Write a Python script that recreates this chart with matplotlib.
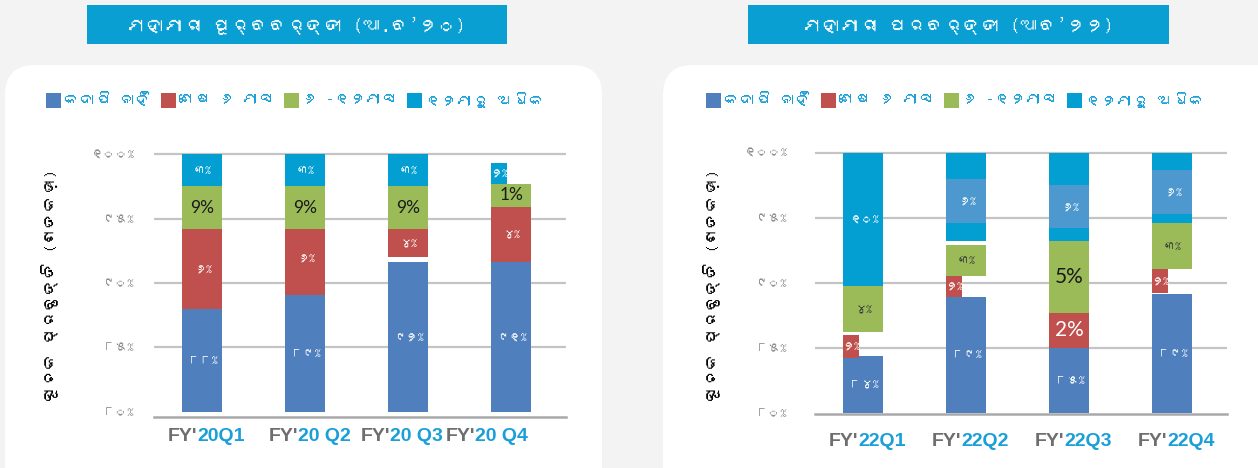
import matplotlib
matplotlib.use("Agg")
import matplotlib.pyplot as plt
from matplotlib import font_manager
from matplotlib.patches import FancyBboxPatch, Rectangle

# ---- values (percent) ----
levels = [80, 85, 90, 95, 100]
level_labels = ["୮୦%", "୮୫%", "୯୦%", "୯୫%", "୧୦୦%"]
series = ["କଦାପି ନାହିଁ", "ଶେଷ ୬ ମାସ", "୬ -୧୨ମାସ", "୧୨ମାରୁ ଅଧିକ"]

# before the pandemic
pre_quarters = ["20Q1", "20 Q2", "20 Q3", "20 Q4"]
pre_never_hi = [88.0, 89.1, 91.6, 91.6]
pre_last6_lo = [88.0, 89.1, 92.0, 91.65]
pre_last6_hi = [94.2, 94.75, 94.2, 95.9]
pre_mid_lo = [94.2, 94.2, 94.2, 95.9]
pre_mid_hi = [97.5, 97.5, 97.5, 97.7]
pre_over_lo = [97.5, 97.5, 97.5, 97.7]
pre_over_hi = [100.0, 100.0, 100.0, 99.3]
pre_never_lbl = ["୮୮%", "୮୯%", "୯୨%", "୯୧%"]
pre_last6_lbl = ["୬%", "୬%", "୪%", "୪%"]
pre_mid_lbl = ["9%", "9%", "9%", "1%"]
pre_over_lbl = ["୩%", "୩%", "୩%", "୨%"]

# after the pandemic
post_quarters = ["22Q1", "22Q2", "22Q3", "22Q4"]
post_never_hi = [84.35, 88.93, 85.0, 89.16]
post_last6_lo = [84.2, 88.93, 85.0, 89.24]
post_last6_hi = [86.0, 90.5, 87.7, 91.04]
post_mid_lo = [86.2, 90.5, 87.7, 91.04]
post_mid_hi = [89.75, 92.87, 93.2, 94.56]
post_over_lo = [89.75, 93.2, 93.2, 94.56]
post_over_hi = [100.0, 100.0, 100.0, 100.0]
post_box_lo = [None, 94.56, 94.17, 95.3]
post_box_hi = [None, 97.95, 97.55, 98.67]
post_never_lbl = ["୮୪%", "୮୯%", "୮୫%", "୮୯%"]
post_last6_lbl = ["୨%", "୨%", "2%", "୨%"]
post_mid_lbl = ["୪%", "୩%", "5%", "୩%"]
post_over_lbl = ["୧୦%", "୬%", "୬%", "୬%"]


def find_odia():
    try:
        from fontTools.ttLib import TTFont
    except Exception:
        return None
    for fe in font_manager.fontManager.ttflist:
        try:
            cmap = TTFont(fe.fname, fontNumber=0, lazy=True).getBestCmap()
        except Exception:
            continue
        if cmap and 0x0B15 in cmap:
            return fe.name
    return None


odia = find_odia()
FONTS = [odia, "DejaVu Sans"] if odia else ["DejaVu Sans"]
plt.rcParams["font.family"] = FONTS

BLUE, RED, GREEN, CYAN, BOX = "#4f7fbd", "#c0504d", "#9bbb59", "#039fd3", "#4d98cf"
GRAY_T = "#6e6e6e"
TXT_CYAN = "#1a9fd8"
W, H = 1258, 468
BW = 0.39

fig = plt.figure(figsize=(W / 100, H / 100), dpi=100)
fig.patch.set_facecolor("#f3f3f3")
renderer = fig.canvas.get_renderer()

# background layer in pixel coordinates
bg = fig.add_axes([0, 0, 1, 1], zorder=0)
bg.set_xlim(0, W)
bg.set_ylim(H, 0)
bg.axis("off")
for x0, w in [(5, 597), (663, 620)]:
    bg.add_patch(FancyBboxPatch((x0, 65), w, 450, boxstyle="round,pad=0,rounding_size=30",
                                fc="white", ec="none"))

titles = ["ମହାମାରୀ ପୂର୍ବବର୍ତ୍ତୀ (ଆ.ବ’୨୦)", "ମହାମାରୀ ପରବର୍ତ୍ତୀ (ଆବ’୨୨)"]
for (x0, w), t in zip([(87, 420), (748, 421)], titles):
    bg.add_patch(Rectangle((x0, 5), w, 39, fc="#0a9fd2", ec="none"))
    bg.text(x0 + w / 2, 25, t, color="white", fontsize=13.5, ha="center", va="center")

# legends: square, then its label, one after the other
for x in (46, 706):
    for col, name in zip([BLUE, RED, GREEN, CYAN], series):
        bg.add_patch(Rectangle((x, 93), 15, 15, fc=col, ec="none"))
        lt = bg.text(x + 18, 100, name, color=TXT_CYAN, fontsize=11.5, ha="left", va="center")
        x += 18 + lt.get_window_extent(renderer).width + 9

ylab = "ସୂଚକ ପ୍ରବୃତ୍ତି (ଶତକଡ଼ା)"
for x in (50, 712):
    bg.text(x, 285, ylab, rotation=90, fontsize=12, fontweight="bold", color="black",
            ha="center", va="center")


def put(ax, x, y, s, dark, big):
    if s.isascii():
        ax.text(x, y, s, ha="center", va="center", fontsize=big, zorder=5,
                family=["Lato", "DejaVu Sans"], color="#1a1a1a" if dark else "white")
    else:
        ax.text(x, y, s, ha="center", va="center", fontsize=8.5, zorder=5,
                color="#3a3a3a" if dark else "white")


def seg(ax, i, lo, hi, color, frac=1.0):
    ax.bar(i - BW / 2, hi - lo, width=BW * frac, bottom=lo, align="edge",
           color=color, lw=0, zorder=3)
    return i - BW / 2 + BW * frac / 2


def panel(rect, ylo, quarters, never_hi, l6_lo, l6_hi, mid_lo, mid_hi, ov_lo, ov_hi,
          lbls, box_lo=None, box_hi=None, l6_frac=None, ov_frac=None,
          shifts=None, big=12, xoff=-14, ypad=14):
    ax = fig.add_axes(rect, zorder=2)
    ax.set_facecolor("none")
    ax.set_xlim(-0.47, 3.53)
    ax.set_ylim(ylo, 100.3)
    ax.hlines(levels[1:], -0.47, 3.53, color="#c4c4c4", lw=1.6, zorder=1)
    n_l, l6_l, mid_l, ov_l = lbls
    for i in range(len(quarters)):
        xc = seg(ax, i, 80, never_hi[i], BLUE)
        put(ax, xc, (80 + never_hi[i]) / 2, n_l[i], False, big)
        xc = seg(ax, i, l6_lo[i], l6_hi[i], RED, l6_frac[i] if l6_frac else 1.0)
        put(ax, xc, (l6_lo[i] + l6_hi[i]) / 2, l6_l[i], False, big)
        xc = seg(ax, i, ov_lo[i], ov_hi[i], CYAN, ov_frac[i] if ov_frac else 1.0)
        if box_lo is not None and box_lo[i] is not None:
            seg(ax, i, box_lo[i], box_hi[i], BOX)
            put(ax, i, (box_lo[i] + box_hi[i]) / 2, ov_l[i], False, big)
        else:
            put(ax, xc, (ov_lo[i] + ov_hi[i]) / 2, ov_l[i], False, big)
        xc = seg(ax, i, mid_lo[i], mid_hi[i], GREEN)
        put(ax, xc, (mid_lo[i] + mid_hi[i]) / 2, mid_l[i], True, big)
    ax.set_yticks(levels, level_labels)
    ax.tick_params(axis="y", length=0, pad=ypad, labelsize=9, labelcolor="#8a8a8a")
    ax.set_xticks(range(len(quarters)), [""] * len(quarters))
    ax.tick_params(axis="x", length=0)
    for s in ("left", "right", "top"):
        ax.spines[s].set_visible(False)
    ax.spines["bottom"].set_color("#a9a9a9")
    ax.spines["bottom"].set_linewidth(1.8)
    tf = ax.get_xaxis_transform()
    for i, q in enumerate(quarters):
        dx = (shifts[i] if shifts else -5.5) / 1.389
        ax.annotate("FY'", (i, 0), xycoords=tf, xytext=(dx, xoff), textcoords="offset points",
                    ha="right", va="center", fontsize=14, fontweight="bold", color=GRAY_T,
                    family=["Liberation Sans", "DejaVu Sans"])
        ax.annotate(q, (i, 0), xycoords=tf, xytext=(dx, xoff), textcoords="offset points",
                    ha="left", va="center", fontsize=14, fontweight="bold", color=TXT_CYAN,
                    family=["Liberation Sans", "DejaVu Sans"])
    return ax


# left panel: axes 154..566 px wide, bottom line at 417 px
panel([154 / W, (H - 417) / H, 412 / W, 266.7 / H], 79.59, pre_quarters,
      pre_never_hi, pre_last6_lo, pre_last6_hi, pre_mid_lo, pre_mid_hi,
      pre_over_lo, pre_over_hi,
      (pre_never_lbl, pre_last6_lbl, pre_mid_lbl, pre_over_lbl),
      ov_frac=[1, 1, 1, 0.38], shifts=[-5.5, -7, -18, -36], big=12.5, xoff=-14, ypad=14)

# right panel: axes 815..1227 px wide, bottom line at 414 px
panel([815 / W, (H - 414) / H, 412 / W, 265.2 / H], 79.9, post_quarters,
      post_never_hi, post_last6_lo, post_last6_hi, post_mid_lo, post_mid_hi,
      post_over_lo, post_over_hi,
      (post_never_lbl, post_last6_lbl, post_mid_lbl, post_over_lbl),
      box_lo=post_box_lo, box_hi=post_box_hi, l6_frac=[0.38, 0.38, 1, 0.38],
      big=15, xoff=-19.8, ypad=20)

fig.savefig("out.png", dpi=100, facecolor=fig.get_facecolor())
